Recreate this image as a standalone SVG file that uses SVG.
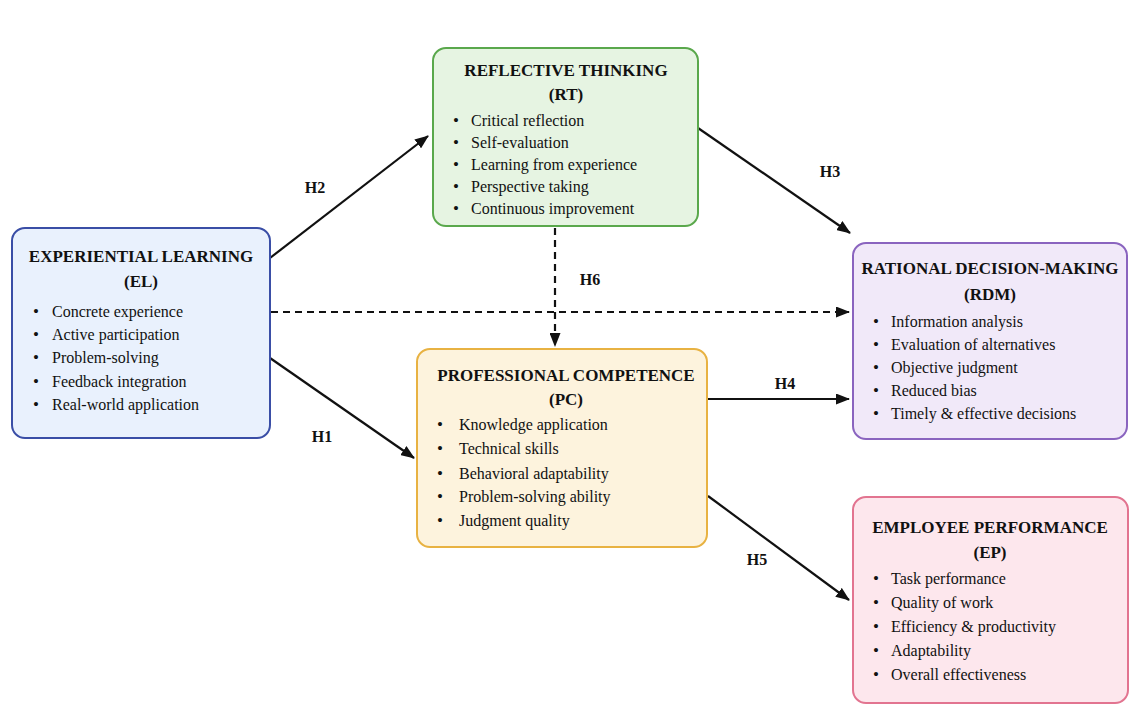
<svg xmlns="http://www.w3.org/2000/svg" width="1133" height="707" viewBox="0 0 1133 707">
<defs>
<marker id="ah" viewBox="0 0 14 11" refX="13" refY="5.5" markerWidth="14" markerHeight="11" markerUnits="userSpaceOnUse" orient="auto">
<path d="M0,0 L14,5.5 L0,11 z" fill="#111"/>
</marker>
<style>
.box{stroke-width:2}
.t{font-family:"Liberation Serif","Times New Roman",serif;font-weight:bold;font-size:17px;fill:#111;text-anchor:middle}
.i{font-family:"Liberation Serif","Times New Roman",serif;font-size:16px;fill:#111}
.b{font-family:"Liberation Serif","Times New Roman",serif;font-size:17px;fill:#111}
.lbl{font-family:"Liberation Serif","Times New Roman",serif;font-weight:bold;font-size:16px;fill:#111;text-anchor:middle}
.c{stroke:#111;stroke-width:2.2;fill:none}
.d{stroke-dasharray:7 5}
</style>
</defs>
<rect width="1133" height="707" fill="#ffffff"/>
<g id="connectors">
<line class="c" x1="270" y1="258" x2="428" y2="136" marker-end="url(#ah)"/>
<line class="c" x1="698" y1="128" x2="850" y2="233" marker-end="url(#ah)"/>
<line class="c d" x1="555" y1="228" x2="555" y2="346" marker-end="url(#ah)"/>
<line class="c d" x1="271" y1="312" x2="849" y2="312" marker-end="url(#ah)"/>
<line class="c" x1="708" y1="399" x2="849" y2="399" marker-end="url(#ah)"/>
<line class="c" x1="270" y1="358" x2="414" y2="458" marker-end="url(#ah)"/>
<line class="c" x1="708" y1="496" x2="849" y2="600" marker-end="url(#ah)"/>
<text class="lbl" x="315" y="193">H2</text>
<text class="lbl" x="830" y="177">H3</text>
<text class="lbl" x="590" y="285">H6</text>
<text class="lbl" x="785" y="389">H4</text>
<text class="lbl" x="322" y="442">H1</text>
<text class="lbl" x="757" y="565">H5</text>
</g>
<g id="EL">
<rect class="box" x="12" y="228" width="258" height="210" rx="13" fill="#e9f1fd" stroke="#3a4ea6"/>
<text class="t" x="141" y="262">EXPERIENTIAL LEARNING</text>
<text class="t" x="141" y="287">(EL)</text>
<text class="b" x="33" y="317">•</text><text class="i" x="52" y="317">Concrete experience</text>
<text class="b" x="33" y="340">•</text><text class="i" x="52" y="340">Active participation</text>
<text class="b" x="33" y="363">•</text><text class="i" x="52" y="363">Problem-solving</text>
<text class="b" x="33" y="387">•</text><text class="i" x="52" y="387">Feedback integration</text>
<text class="b" x="33" y="410">•</text><text class="i" x="52" y="410">Real-world application</text>
</g>
<g id="RT">
<rect class="box" x="433" y="48" width="265" height="178" rx="13" fill="#e6f4e2" stroke="#5aa84c"/>
<text class="t" x="566" y="76">REFLECTIVE THINKING</text>
<text class="t" x="566" y="100">(RT)</text>
<text class="b" x="453" y="126">•</text><text class="i" x="471" y="126">Critical reflection</text>
<text class="b" x="453" y="148">•</text><text class="i" x="471" y="148">Self-evaluation</text>
<text class="b" x="453" y="170">•</text><text class="i" x="471" y="170">Learning from experience</text>
<text class="b" x="453" y="192">•</text><text class="i" x="471" y="192">Perspective taking</text>
<text class="b" x="453" y="214">•</text><text class="i" x="471" y="214">Continuous improvement</text>
</g>
<g id="RDM">
<rect class="box" x="853" y="243" width="274" height="196" rx="13" fill="#f1e9f9" stroke="#8a64bf"/>
<text class="t" x="990" y="274">RATIONAL DECISION-MAKING</text>
<text class="t" x="990" y="300">(RDM)</text>
<text class="b" x="873" y="327">•</text><text class="i" x="891" y="327">Information analysis</text>
<text class="b" x="873" y="350">•</text><text class="i" x="891" y="350">Evaluation of alternatives</text>
<text class="b" x="873" y="373">•</text><text class="i" x="891" y="373">Objective judgment</text>
<text class="b" x="873" y="396">•</text><text class="i" x="891" y="396">Reduced bias</text>
<text class="b" x="873" y="419">•</text><text class="i" x="891" y="419">Timely &amp; effective decisions</text>
</g>
<g id="PC">
<rect class="box" x="417" y="349" width="290" height="198" rx="13" fill="#fdf3dd" stroke="#e8b242"/>
<text class="t" x="566" y="381">PROFESSIONAL COMPETENCE</text>
<text class="t" x="566" y="405">(PC)</text>
<text class="b" x="437" y="430">•</text><text class="i" x="459" y="430">Knowledge application</text>
<text class="b" x="437" y="454">•</text><text class="i" x="459" y="454">Technical skills</text>
<text class="b" x="437" y="479">•</text><text class="i" x="459" y="479">Behavioral adaptability</text>
<text class="b" x="437" y="502">•</text><text class="i" x="459" y="502">Problem-solving ability</text>
<text class="b" x="437" y="526">•</text><text class="i" x="459" y="526">Judgment quality</text>
</g>
<g id="EP">
<rect class="box" x="853" y="497" width="275" height="206" rx="13" fill="#fde7ed" stroke="#e27490"/>
<text class="t" x="990" y="533">EMPLOYEE PERFORMANCE</text>
<text class="t" x="990" y="558">(EP)</text>
<text class="b" x="873" y="584">•</text><text class="i" x="891" y="584">Task performance</text>
<text class="b" x="873" y="608">•</text><text class="i" x="891" y="608">Quality of work</text>
<text class="b" x="873" y="632">•</text><text class="i" x="891" y="632">Efficiency &amp; productivity</text>
<text class="b" x="873" y="656">•</text><text class="i" x="891" y="656">Adaptability</text>
<text class="b" x="873" y="680">•</text><text class="i" x="891" y="680">Overall effectiveness</text>
</g>
</svg>
